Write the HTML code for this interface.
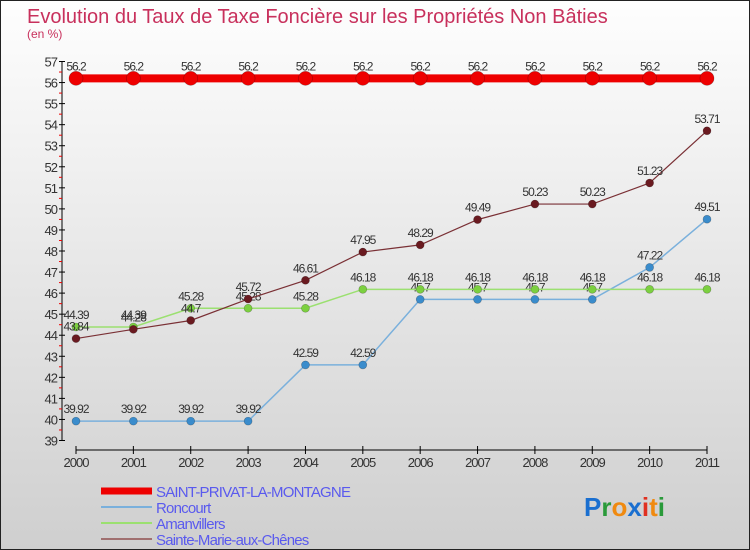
<!DOCTYPE html>
<html><head><meta charset="utf-8"><style>
html,body{margin:0;padding:0}
body{width:750px;height:550px;overflow:hidden;font-family:"Liberation Sans",sans-serif}
#wrap{position:relative;width:748px;height:548px;border:1px solid #222;background:linear-gradient(#fefefe,#cfcfcf)}
</style></head><body>
<div id="wrap">
<svg id="chart" width="748" height="548" style="position:absolute;left:0;top:0">
<text x="26" y="22" font-size="20" fill="#c8305c">Evolution du Taux de Taxe Foncière sur les Propriétés Non Bâties</text>
<text x="26" y="37" font-size="12" fill="#c8305c">(en %)</text>
<g id="axes"></g><g id="series"></g><g id="legend"></g>
<text x="583" y="515" font-size="26" font-weight="bold"><tspan fill="#1a6fd0">P</tspan><tspan fill="#2a9a3a">r</tspan><tspan fill="#f08a10">o</tspan><tspan fill="#1a6fd0">x</tspan><tspan fill="#e03020">i</tspan><tspan fill="#f08a10">t</tspan><tspan fill="#2a9a3a">i</tspan></text>
</svg>
</div>
<script>
const years=[2000,2001,2002,2003,2004,2005,2006,2007,2008,2009,2010,2011];
const saintPrivat=[56.2,56.2,56.2,56.2,56.2,56.2,56.2,56.2,56.2,56.2,56.2,56.2];
const roncourt=[39.92,39.92,39.92,39.92,42.59,42.59,45.7,45.7,45.7,45.7,47.22,49.51];
const amanvillers=[44.39,44.39,45.28,45.28,45.28,46.18,46.18,46.18,46.18,46.18,46.18,46.18];
const sainteMarie=[43.84,44.28,44.7,45.72,46.61,47.95,48.29,49.49,50.23,50.23,51.23,53.71];
const yTicks=[39,40,41,42,43,44,45,46,47,48,49,50,51,52,53,54,55,56,57];
const seriesNames=["SAINT-PRIVAT-LA-MONTAGNE","Roncourt","Amanvillers","Sainte-Marie-aux-Chênes"];

const NS="http://www.w3.org/2000/svg";
const x0=75,x1=706,yTop=60.5,yBot=439.5,vMin=39,vMax=57;
const xs=i=>x0+(x1-x0)*i/(years.length-1);
const ys=v=>yBot-(v-vMin)*(yBot-yTop)/(vMax-vMin);
function mk(tag,attrs,parent,txt){const e=document.createElementNS(NS,tag);for(const k in attrs)e.setAttribute(k,attrs[k]);if(txt!==undefined)e.textContent=txt;parent.appendChild(e);return e;}
const axes=document.getElementById('axes');
let ax=mk('line',{x1:61,y1:ys(57),x2:61,y2:ys(39),stroke:'#000'},axes);


yTicks.forEach(v=>{
  mk('line',{x1:58,y1:ys(v),x2:64,y2:ys(v),stroke:'#000'},axes);
  if(v<57)mk('line',{x1:58,y1:ys(v+0.5),x2:61,y2:ys(v+0.5),stroke:'#e00'},axes);
  const t=mk('text',{x:56,y:ys(v)+5,'font-size':13,fill:'#333','text-anchor':'end','letter-spacing':'-1'},axes,String(v));
  
  
});
let xa=mk('line',{x1:x0,y1:449,x2:x1,y2:449,stroke:'#000'},axes);


years.forEach((y,i)=>{
  mk('line',{x1:xs(i),y1:445,x2:xs(i),y2:453,stroke:'#000'},axes);
  const t=mk('text',{x:xs(i),y:466,'font-size':13,fill:'#333','text-anchor':'middle','letter-spacing':'-1'},axes,String(y));
  
  
});
const sg=document.getElementById('series');
const defs=[
 {d:roncourt,line:'#7ab0dc',w:1.5,dot:'#3a8ccc',r:4,name:'series-roncourt'},
 {d:amanvillers,line:'#9be070',w:1.5,dot:'#7cd040',r:4,name:'series-amanvillers'},
 {d:sainteMarie,line:'#7a3035',w:1.2,dot:'#6a1a20',r:4,name:'series-sainte-marie'},
 {d:saintPrivat,line:'#ee0000',w:8,dot:'#ee0000',r:7,name:'series-saint-privat'}
];
defs.forEach(s=>{
  const g=mk('g',{},sg);
  
  
  mk('polyline',{points:s.d.map((v,i)=>xs(i)+','+ys(v)).join(' '),fill:'none',stroke:s.line,'stroke-width':s.w},g);
  s.d.forEach((v,i)=>{
    const c=mk('circle',{cx:xs(i),cy:ys(v),r:s.r,fill:s.dot,stroke:'rgba(0,0,0,0.3)','stroke-width':0.6},g);
    
    
    const t=mk('text',{x:xs(i),y:ys(v)-8,'font-size':12,fill:'#333','text-anchor':'middle','letter-spacing':'-1'},g,String(v));
    
    
  });
});
const lg=document.getElementById('legend');
const lcol=['#ee0000','#7ab0dc','#9be070','#a07070'],lw=[7,2,2,2];
seriesNames.forEach((n,i)=>{
  const y=490+i*16;
  const g=mk('g',{},lg);
  
  
  mk('line',{x1:100,y1:y,x2:151,y2:y,stroke:lcol[i],'stroke-width':lw[i]},g);
  mk('text',{x:155,y:y+6,'font-size':15,fill:'#5a5aee','letter-spacing':'-0.8'},g,n);
});
</script>
</body></html>
